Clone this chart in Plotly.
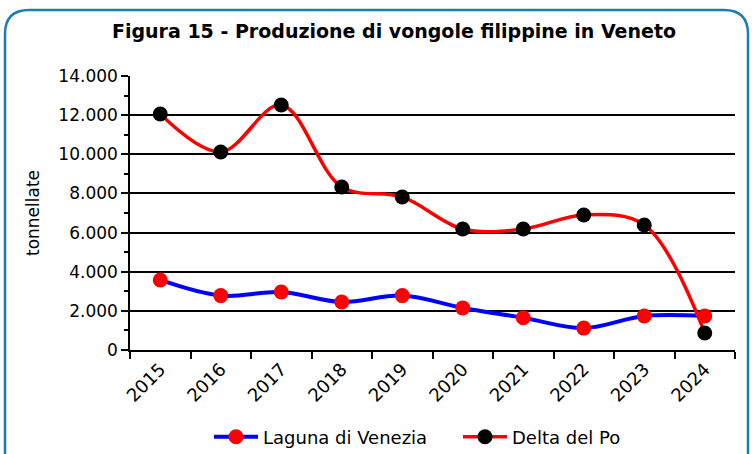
import plotly.graph_objects as go

years = ["2015", "2016", "2017", "2018", "2019", "2020", "2021", "2022", "2023", "2024"]
laguna = [3580, 2780, 2960, 2450, 2780, 2150, 1650, 1120, 1740, 1740]
delta = [12060, 10120, 12520, 8330, 7820, 6180, 6180, 6900, 6390, 870]
y_ticks = [0, 2000, 4000, 6000, 8000, 10000, 12000, 14000]
y_labels = ["0", "2.000", "4.000", "6.000", "8.000", "10.000", "12.000", "14.000"]

FONT = "DejaVu Sans"
W, H = 752, 454
ML, MR, MT, MB = 130, 17, 76, 104
PW, PH = W - ML - MR, H - MT - MB

def px(x):
    return (x - ML) / PW

def py(y):
    return (H - MB - y) / PH

fig = go.Figure()
fig.add_trace(go.Scatter(
    x=years, y=laguna, name="Laguna di Venezia", mode="lines+markers",
    line=dict(color="#0000FF", width=4, shape="spline", smoothing=1),
    marker=dict(color="#FF0000", size=15),
))
fig.add_trace(go.Scatter(
    x=years, y=delta, name="Delta del Po", mode="lines+markers",
    line=dict(color="#FF0000", width=3.5, shape="spline", smoothing=1),
    marker=dict(color="#000000", size=15),
))

# rounded border
x0, x1, y0, y1, r = 5, 748, 10, 480, 24
path = (f"M {px(x0)},{py(y0 + r)} Q {px(x0)},{py(y0)} {px(x0 + r)},{py(y0)} "
        f"L {px(x1 - r)},{py(y0)} Q {px(x1)},{py(y0)} {px(x1)},{py(y0 + r)} "
        f"L {px(x1)},{py(y1)} L {px(x0)},{py(y1)} Z")

fig.update_layout(
    width=W, height=H,
    margin=dict(l=ML, r=MR, t=MT, b=MB, autoexpand=False),
    paper_bgcolor="white", plot_bgcolor="white",
    font=dict(family=FONT, size=17, color="#000000"),
    title=dict(text="<b>Figura 15 - Produzione di vongole filippine in Veneto</b>",
               x=394 / W, xref="container", xanchor="center",
               y=1 - 31 / H, yref="container", yanchor="middle",
               font=dict(family=FONT, size=19, color="#000000")),
    showlegend=True,
    legend=dict(orientation="h", x=px(209), xanchor="left", xref="paper",
                y=-(437 - (H - MB)) / PH, yanchor="middle", font=dict(size=18),
                itemwidth=44, tracegroupgap=0, entrywidth=190, entrywidthmode="pixels"),
    shapes=[dict(type="path", path=path, xref="paper", yref="paper",
                 line=dict(color="#1B7DB0", width=2.5), layer="below")],
    xaxis=dict(type="category", range=[-0.5, len(years) - 0.5],
               showgrid=False, showline=True, linecolor="#000",
               linewidth=1.5, ticks="outside", tickson="boundaries", ticklen=7,
               tickcolor="#000", tickwidth=1.5, tickangle=-45,
               tickfont=dict(size=18)),
    yaxis=dict(range=[0, 14000], tickvals=y_ticks, ticktext=y_labels,
               showgrid=True, gridcolor="#000", gridwidth=1.5, zeroline=False,
               showline=True, linecolor="#000", linewidth=1.5,
               ticks="outside", ticklen=7, tickcolor="#000", tickwidth=1.5,
               minor=dict(dtick=1000, ticks="outside", ticklen=4, tickcolor="#000",
                          tickwidth=1.5, showgrid=False),
               title=dict(text="tonnellate", font=dict(size=17), standoff=14),
               tickfont=dict(size=17)),
)

fig.write_html("out.html", config={"displayModeBar": False},
               post_script="document.body.style.margin='0';document.body.style.overflow='hidden';")
